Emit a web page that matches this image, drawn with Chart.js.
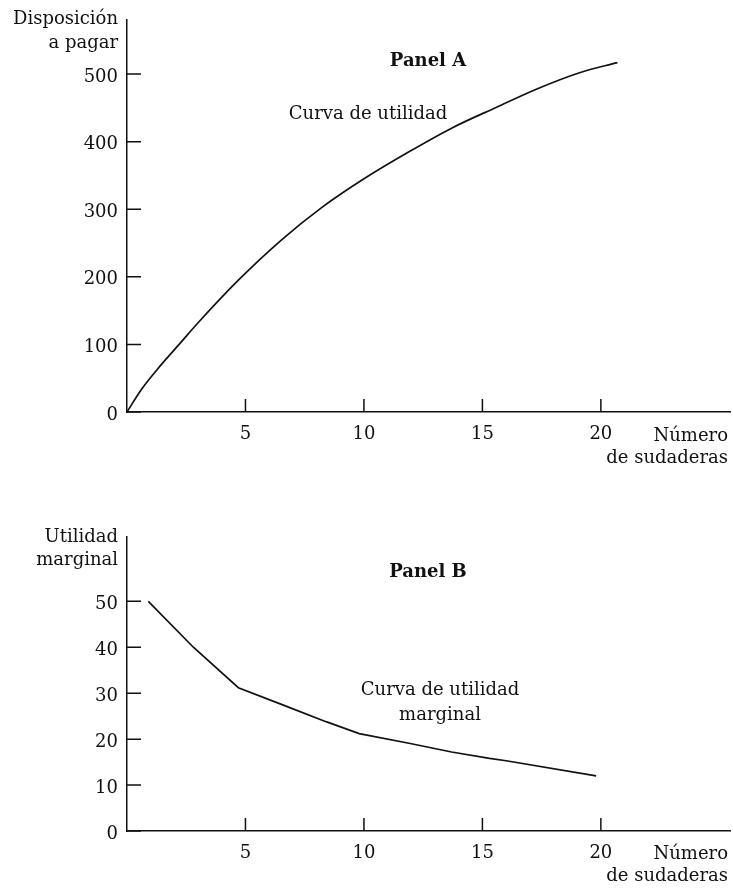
<!DOCTYPE html>
<html lang="es">
<head>
<meta charset="utf-8">
<title>Curva de utilidad</title>
<script src="https://cdn.jsdelivr.net/npm/chart.js@4/dist/chart.umd.min.js"></script>
<style>
  html, body { margin: 0; padding: 0; background: #fff; }
  #lienzo { position: relative; width: 733px; height: 889px; }
  .panel { position: absolute; left: 0; width: 733px; }
  #panelA { top: 0; height: 480px; }
  #panelB { top: 480px; height: 409px; }
</style>
</head>
<body>
<div id="lienzo">
  <div class="panel" id="panelA"><canvas id="graficaA" width="733" height="480"></canvas></div>
  <div class="panel" id="panelB"><canvas id="graficaB" width="733" height="409"></canvas></div>
</div>
<script>
// DATOS PANEL A (curva de utilidad)
const sudaderasA = [0, 0.6, 1.3, 2.2, 3.0, 4.7, 6.5, 8.2, 10.0, 11.9, 13.7, 15.6, 17.3, 19.1, 20.7];
const utilidad = [0, 33, 64, 100, 132, 195, 254, 302, 345, 385, 420, 451, 478, 502, 517];

// DATOS PANEL B (utilidad marginal)
const sudaderasB = [0.9, 2.8, 4.7, 6.6, 8.4, 9.8, 11.9, 13.7, 15.3, 16.0, 19.8];
const utilidadMarginal = [50, 40, 31.2, 27.4, 23.8, 21.2, 19.1, 17.2, 15.8, 15.3, 12];

// MARCAS DE LOS EJES
const marcasX = [5, 10, 15, 20];
const marcasYA = [0, 100, 200, 300, 400, 500];
const marcasYB = [0, 10, 20, 30, 40, 50];

const fuente = '"DejaVu Serif", serif';
const negro = '#111';

// Marcas hacia dentro + textos sueltos
function extras(textos) {
    return {
        id: 'extras',
        afterDraw(chart) {
            const ctx = chart.ctx;
            const { left, bottom } = chart.chartArea;
            const ex = chart.scales.x, ey = chart.scales.y;
            ctx.save();
            ctx.strokeStyle = negro;
            ctx.lineWidth = 1.5;
            ctx.beginPath();
            ex.ticks.forEach(t => {
                const px = ex.getPixelForValue(t.value);
                ctx.moveTo(px, bottom);
                ctx.lineTo(px, bottom - 13);
            });
            ey.ticks.forEach(t => {
                const py = ey.getPixelForValue(t.value);
                ctx.moveTo(left, py);
                ctx.lineTo(left + 14, py);
            });
            ctx.stroke();

            ctx.fillStyle = negro;
            ctx.textBaseline = 'alphabetic';
            textos.forEach(t => {
                ctx.font = (t.negrita ? 'bold ' : '') + '18px ' + fuente;
                ctx.textAlign = t.alinear;
                ctx.fillText(t.texto, t.x, t.y);
            });
            ctx.restore();
        }
    };
}

function crearGrafica(id, xs, ys, marcasY, maxY, arriba, abajo, suave, textos) {
    return new Chart(document.getElementById(id), {
        type: 'line',
        data: {
            datasets: [{
                data: xs.map((v, i) => ({ x: v, y: ys[i] })),
                borderColor: negro,
                borderWidth: 1.7,
                pointRadius: 0,
                fill: false,
                tension: 0,
                cubicInterpolationMode: suave ? 'monotone' : 'default'
            }]
        },
        options: {
            responsive: false,
            animation: false,
            layout: { padding: { top: arriba, right: 3, left: 0, bottom: 0 } },
            plugins: { legend: { display: false }, tooltip: { enabled: false } },
            scales: {
                x: {
                    type: 'linear', min: 0, max: 25.45,
                    afterBuildTicks: e => { e.ticks = marcasX.map(v => ({ value: v })); },
                    afterFit: e => { e.height = abajo; },
                    grid: { display: false, drawTicks: false },
                    border: { display: true, color: negro, width: 1.5 },
                    ticks: { padding: 12, color: negro, maxRotation: 0, font: { family: fuente, size: 18 } }
                },
                y: {
                    type: 'linear', min: 0, max: maxY,
                    afterBuildTicks: e => { e.ticks = marcasY.map(v => ({ value: v })); },
                    afterFit: e => { e.width = 127; },
                    grid: { display: false, drawTicks: false },
                    border: { display: true, color: negro, width: 1.5 },
                    ticks: { padding: 9, labelOffset: 3, color: negro, font: { family: fuente, size: 18 } }
                }
            }
        },
        plugins: [extras(textos)]
    });
}

// PANEL A
crearGrafica('graficaA', sudaderasA, utilidad, marcasYA, 580, 20, 68, true, [
    { texto: 'Disposición', x: 118, y: 24, alinear: 'right' },
    { texto: 'a pagar', x: 118, y: 48, alinear: 'right' },
    { texto: 'Panel A', x: 428, y: 66, alinear: 'center', negrita: true },
    { texto: 'Curva de utilidad', x: 368, y: 119, alinear: 'center' },
    { texto: 'Número', x: 728, y: 441, alinear: 'right' },
    { texto: 'de sudaderas', x: 728, y: 463, alinear: 'right' }
]);

// PANEL B
crearGrafica('graficaB', sudaderasB, utilidadMarginal, marcasYB, 64, 57, 58, false, [
    { texto: 'Utilidad', x: 118, y: 62, alinear: 'right' },
    { texto: 'marginal', x: 118, y: 85, alinear: 'right' },
    { texto: 'Panel B', x: 428, y: 97, alinear: 'center', negrita: true },
    { texto: 'Curva de utilidad', x: 440, y: 215, alinear: 'center' },
    { texto: 'marginal', x: 440, y: 240, alinear: 'center' },
    { texto: 'Número', x: 728, y: 379, alinear: 'right' },
    { texto: 'de sudaderas', x: 728, y: 401, alinear: 'right' }
]);
</script>
</body>
</html>
